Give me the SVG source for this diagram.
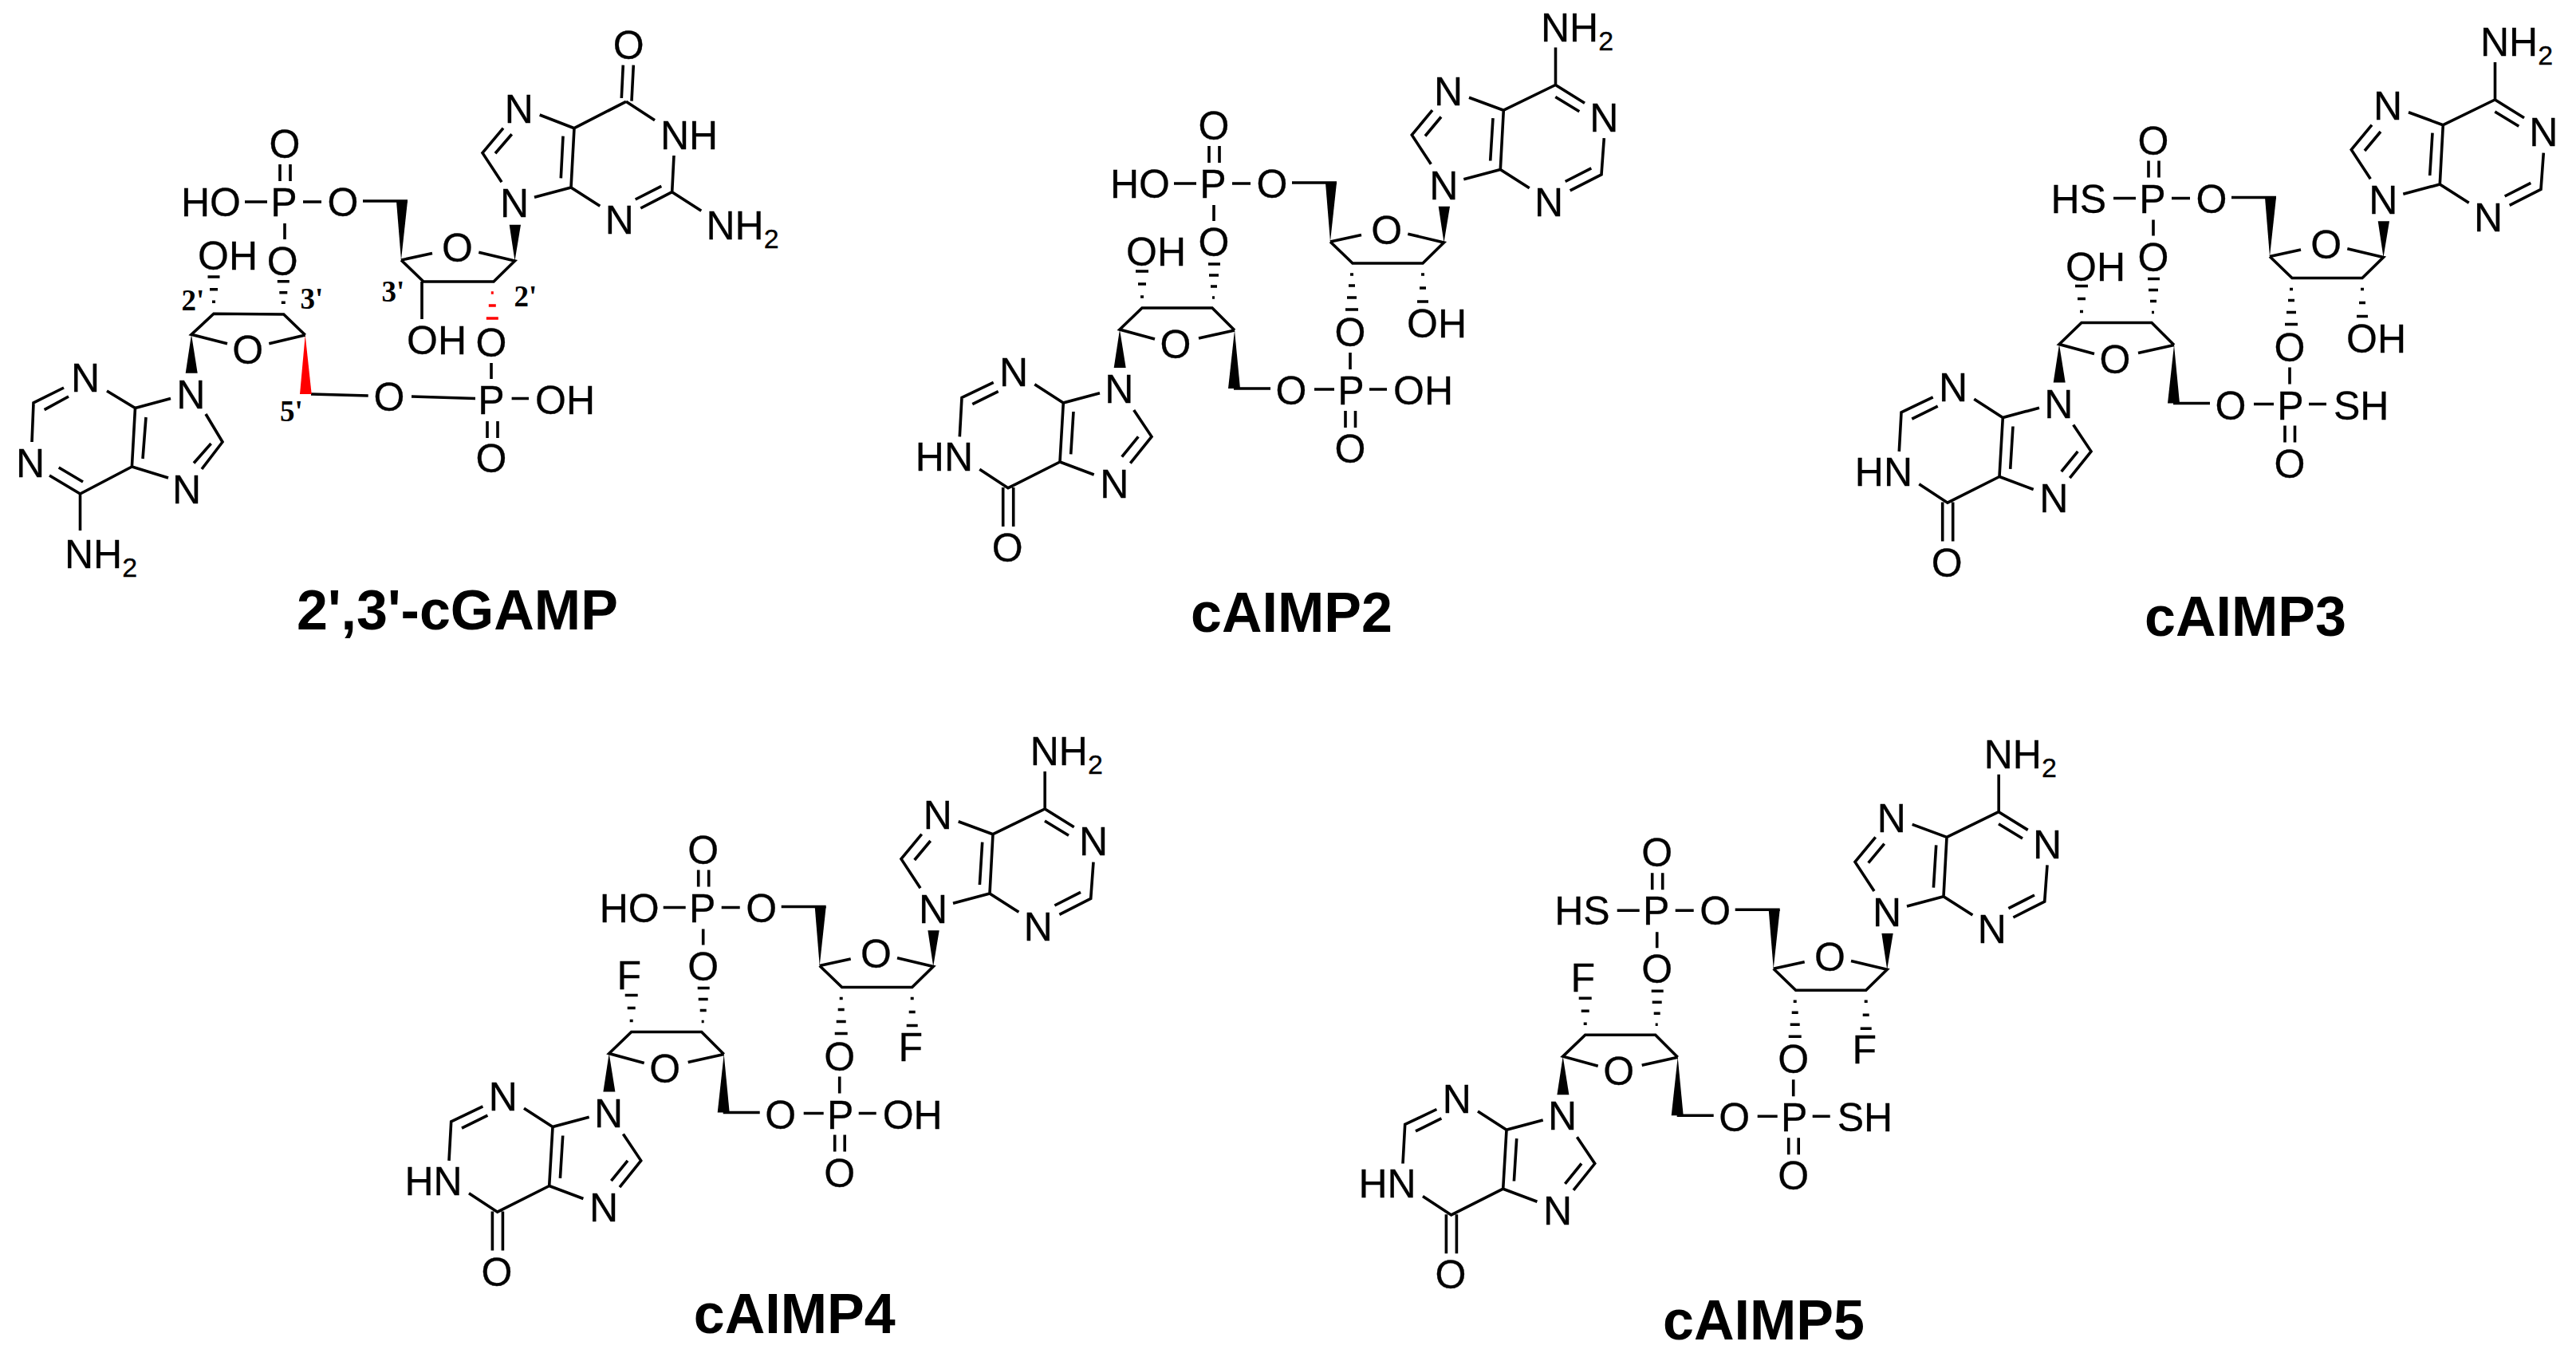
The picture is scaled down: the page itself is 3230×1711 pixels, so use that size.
<svg xmlns="http://www.w3.org/2000/svg" width="3230" height="1711" viewBox="0 0 3230 1711">
<style>
text{font-family:"Liberation Sans",Arial,sans-serif;font-size:50px;fill:#000;stroke:#000;stroke-width:.3}
.m{text-anchor:middle}.e{text-anchor:end}
.s{font-size:34px}
.t{font-weight:bold;font-size:70px;stroke:none}
.r{font-family:"Liberation Serif","Times New Roman",serif;font-weight:bold;font-size:37px;stroke:none}
.b{fill:none;stroke:#000;stroke-width:3.6}
.w{fill:#000}
.red{fill:none;stroke:#f00;stroke-width:3.6}
</style>
<defs>
<g id="top">
<path class="b" d="M1472 230H1500M1516 183V204M1529 183V204M1545 230H1568M1522 257V277M1620 229H1676M1668 303L1696 330H1784L1810.500 304L1765.300 293.200M1707 294.500L1668 303"/>
<polygon class="w" points="1668,303 1662,229 1676,229"/>
<polygon class="w" points="1810.500,304 1803.700,258.800 1818,258.800"/>
</g>
<g id="ade">
<path class="b" d="M1950.500 59.500V106.500L1987 129.200M1950.300 121.500L1980.300 139.800M2011.300 173.200L2008 218.800L1968.700 238.800M1995.300 210.800L1962.700 227.500M1917.700 235.800L1881.300 212.500L1885.300 138.200L1950.300 106.500M1868.700 201.500L1872 148.200M1885.300 138.200L1842 122.200M1796 138.200L1770.300 169.200L1794.300 205.800M1807 146.500L1787 170.500M1835.300 224.800L1881.300 212.500"/>
</g>
<g id="low">
<path class="b" d="M1515 331H1530M1516 345H1528M1518 359H1526M1520 373H1523M1424 340H1440M1427 356H1437M1430 372H1434M1693 344H1697M1691 358H1699M1689 373H1701M1687 388H1703M1782 344H1786M1780 361H1788M1777 378H1791"/>
<path class="b" d="M1548 414L1520 386H1432L1404 413L1448 425M1503 424L1548 414M1547 487H1593M1648 488H1673M1717 488H1739M1687 515V536M1699.500 515V536M1693 442V463"/>
<polygon class="w" points="1404,413 1396.700,461 1411.700,461"/>
<polygon class="w" points="1548,414 1540,487 1555,487"/>
<path class="b" d="M1379 492.700L1333.300 505L1329 579L1371.700 595M1421.700 514L1444 547.300L1417.300 580.700M1427.300 547.300L1406.700 572.700M1346 516L1342.700 569.300M1333.300 505L1297.300 481.700M1245.700 479.300L1206 498.300L1203.300 547.300M1251.700 490.700L1219.300 506.700M1228.300 588.300L1264 611.700L1329 579M1257.700 611V660M1270.700 611V660"/>
</g>
</defs>

<g id="cGAMP">
<use href="#top" transform="translate(-1165,23)"/>
<path class="b" d="M781.300 81.700L779.300 123M794.300 81.700L792 126.700M785 127.300L720 160.700M785 127.300L821 150.700M845 195L842.700 240.700L803.300 261M829.300 233.300L796.700 250M842.700 240.700L879.300 264.300M752.300 258.300L716 235L720 160.700M703.300 223.300L706 170.700M720 160.700L676.700 144M631 160.700L605 191.700L629 228.300M641.700 168.300L621 192.300M670 247.300L716 235"/>
<path class="b" d="M529 353V400M616 455V475M641.600 499.500H663M611 528V549M624 528V549M516 497L596 499.500M390 494L461.700 496"/>
<path class="red" d="M615.800 367H618.800M612.800 383H621.800M609.800 399H624.800"/>
<polygon fill="#f00" points="382.700,420 376,494 390.700,494"/>
<path class="b" d="M382.700 420L355.700 394L268 393.300L240 419.300L285 430.700M337.300 430.700L382.700 420"/>
<polygon class="w" points="240,419.300 232.700,467.700 247.700,467.700"/>
<path class="b" d="M260.500 347H275.500M263 362.700H273M266 378.300H270M347.800 352.700H362.800M350.300 366.700H360.300M352.800 379.300H357.800"/>
<path class="b" d="M214 499.500L169.500 511.500L165.400 585L211 599M258 519L279 554L253 588M264.600 556L243 580.500M183 523L179 575M169.500 511.500L134 490M80 486L42 505L40 554M86 497L55.600 513.600M62 596L100.500 619L165.400 585M73.700 586L104 604M100.500 619V665"/>
<text class="m" x="788.300" y="74">O</text>
<text x="828" y="186.500">NH</text>
<text x="885.500" y="299.500">NH<tspan class="s" dy="11">2</tspan></text>
<text class="m" x="776.700" y="293">N</text>
<text class="m" x="650.700" y="153.700">N</text>
<text class="m" x="645" y="272">N</text>
<text class="m" x="357" y="198">O</text>
<text class="m" x="356" y="271">P</text>
<text class="m" x="430" y="271">O</text>
<text class="e" x="302" y="271">HO</text>
<text class="m" x="354.300" y="345">O</text>
<text class="m" x="573.500" y="328">O</text>
<text x="248" y="338">OH</text>
<text x="510" y="444">OH</text>
<text class="m" x="616" y="447">O</text>
<text class="m" x="616" y="519">P</text>
<text x="671" y="519">OH</text>
<text class="m" x="616" y="592">O</text>
<text class="m" x="488" y="515">O</text>
<text class="m" x="310.700" y="455.500">O</text>
<text class="m" x="239.300" y="511.500">N</text>
<text class="m" x="107" y="491">N</text>
<text class="m" x="38" y="598">N</text>
<text class="m" x="234" y="631">N</text>
<text x="81" y="712">NH<tspan class="s" dy="11">2</tspan></text>
<text class="r" x="227.500" y="389.300">2'</text>
<text class="r" x="376.500" y="386.700">3'</text>
<text class="r" x="478.500" y="378">3'</text>
<text class="r" x="644.500" y="384">2'</text>
<text class="r" x="351" y="528.300">5'</text>
<text class="t" x="372" y="789">2',3'-cGAMP</text>
</g>

<g id="cAIMP2">
<use href="#top"/><use href="#ade"/><use href="#low"/>
<text class="m" x="1522" y="175">O</text><text class="m" x="1521" y="248">P</text><text class="m" x="1595" y="248">O</text><text class="e" x="1467" y="248">HO</text><text class="m" x="1522" y="321">O</text><text class="m" x="1738.700" y="305.500">O</text><text class="m" x="1810.300" y="249.500">N</text>
<text x="1932" y="51.500">NH<tspan class="s" dy="11">2</tspan></text><text class="m" x="1816" y="131.800">N</text><text class="m" x="2011.300" y="164.500">N</text><text class="m" x="1942" y="271.200">N</text>
<text x="1412" y="333">OH</text><text class="m" x="1474" y="449">O</text><text class="m" x="1693" y="434">O</text><text x="1764" y="423">OH</text><text class="m" x="1403.300" y="505.300">N</text><text class="m" x="1271" y="484">N</text><text class="e" x="1220" y="590">HN</text><text class="m" x="1263.300" y="704">O</text><text class="m" x="1397.300" y="623.700">N</text><text class="m" x="1619" y="507">O</text><text class="m" x="1694" y="507">P</text><text x="1747" y="507">OH</text><text class="m" x="1693" y="580">O</text>
<text class="t" x="1493" y="792">cAIMP2</text>
</g>

<g id="cAIMP3" transform="translate(1178,18.500)">
<use href="#top"/><use href="#ade"/><use href="#low"/>
<text class="m" x="1522" y="175">O</text><text class="m" x="1521" y="248">P</text><text class="m" x="1595" y="248">O</text><text class="e" x="1463" y="248">HS</text><text class="m" x="1522" y="321">O</text><text class="m" x="1738.700" y="305.500">O</text><text class="m" x="1810.300" y="249.500">N</text>
<text x="1932" y="51.500">NH<tspan class="s" dy="11">2</tspan></text><text class="m" x="1816" y="131.800">N</text><text class="m" x="2011.300" y="164.500">N</text><text class="m" x="1942" y="271.200">N</text>
<text x="1412" y="333">OH</text><text class="m" x="1474" y="449">O</text><text class="m" x="1693" y="434">O</text><text x="1764" y="423">OH</text><text class="m" x="1403.300" y="505.300">N</text><text class="m" x="1271" y="484">N</text><text class="e" x="1220" y="590">HN</text><text class="m" x="1263.300" y="704">O</text><text class="m" x="1397.300" y="623.700">N</text><text class="m" x="1619" y="507">O</text><text class="m" x="1694" y="507">P</text><text x="1748" y="507">SH</text><text class="m" x="1693" y="580">O</text>
<text class="t" x="1511" y="778.500">cAIMP3</text>
</g>

<g id="cAIMP4" transform="translate(-640.300,907.500)">
<use href="#top"/><use href="#ade"/><use href="#low"/>
<text class="m" x="1522" y="175">O</text><text class="m" x="1521" y="248">P</text><text class="m" x="1595" y="248">O</text><text class="e" x="1467" y="248">HO</text><text class="m" x="1522" y="321">O</text><text class="m" x="1738.700" y="305.500">O</text><text class="m" x="1810.300" y="249.500">N</text>
<text x="1932" y="51.500">NH<tspan class="s" dy="11">2</tspan></text><text class="m" x="1816" y="131.800">N</text><text class="m" x="2011.300" y="164.500">N</text><text class="m" x="1942" y="271.200">N</text>
<text class="m" x="1429" y="332">F</text><text class="m" x="1474" y="449">O</text><text class="m" x="1693" y="434">O</text><text class="m" x="1782" y="422">F</text><text class="m" x="1403.300" y="505.300">N</text><text class="m" x="1271" y="484">N</text><text class="e" x="1220" y="590">HN</text><text class="m" x="1263.300" y="704">O</text><text class="m" x="1397.300" y="623.700">N</text><text class="m" x="1619" y="507">O</text><text class="m" x="1694" y="507">P</text><text x="1747" y="507">OH</text><text class="m" x="1693" y="580">O</text>
<text class="t" x="1510" y="763.500">cAIMP4</text>
</g>

<g id="cAIMP5" transform="translate(555.700,911.200)">
<use href="#top"/><use href="#ade"/><use href="#low"/>
<text class="m" x="1522" y="175">O</text><text class="m" x="1521" y="248">P</text><text class="m" x="1595" y="248">O</text><text class="e" x="1463" y="248">HS</text><text class="m" x="1522" y="321">O</text><text class="m" x="1738.700" y="305.500">O</text><text class="m" x="1810.300" y="249.500">N</text>
<text x="1932" y="51.500">NH<tspan class="s" dy="11">2</tspan></text><text class="m" x="1816" y="131.800">N</text><text class="m" x="2011.300" y="164.500">N</text><text class="m" x="1942" y="271.200">N</text>
<text class="m" x="1429" y="332">F</text><text class="m" x="1474" y="449">O</text><text class="m" x="1693" y="434">O</text><text class="m" x="1782" y="422">F</text><text class="m" x="1403.300" y="505.300">N</text><text class="m" x="1271" y="484">N</text><text class="e" x="1220" y="590">HN</text><text class="m" x="1263.300" y="704">O</text><text class="m" x="1397.300" y="623.700">N</text><text class="m" x="1619" y="507">O</text><text class="m" x="1694" y="507">P</text><text x="1748" y="507">SH</text><text class="m" x="1693" y="580">O</text>
<text class="t" x="1529.300" y="767.800">cAIMP5</text>
</g>
</svg>
